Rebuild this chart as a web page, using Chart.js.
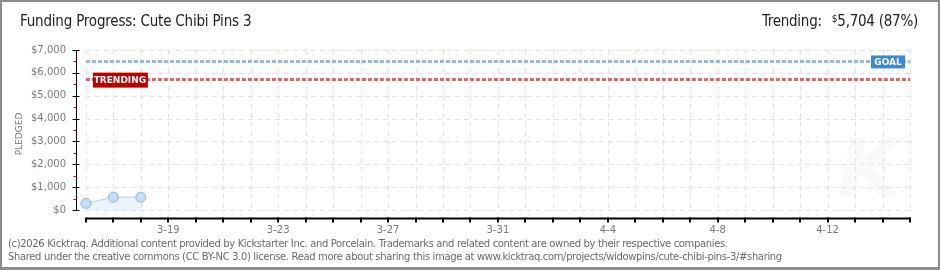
<!DOCTYPE html>
<html>
<head>
<meta charset="utf-8">
<script src="https://cdn.jsdelivr.net/npm/chart.js@4"></script>
<style>
    body { margin: 0; background: #fff; }
    #wrap { position: relative; width: 940px; height: 270px; overflow: hidden; }
    #frame { position: absolute; left: 0; top: 0; width: 940px; height: 270px; box-sizing: border-box;
             border: 2px solid #8c8c8c; border-bottom-width: 3px; }
    #chart { position: absolute; left: 0; top: 0; }
    .title { position: absolute; left: 20px; top: 12px; font: 15px "Liberation Sans Narrow", "DejaVu Sans Condensed", sans-serif;
             color: #222; white-space: nowrap; letter-spacing: -0.2px; }
    .trend { position: absolute; right: 22px; top: 12px; font: 15px "Liberation Sans Narrow", "DejaVu Sans Condensed", sans-serif;
             color: #222; white-space: nowrap; letter-spacing: -0.25px; }
    .trend sup { font-size: 10px; vertical-align: 4px; margin-left: 6px; }
    .foot { position: absolute; left: 8px; top: 237px; font: 10px "DejaVu Sans", sans-serif; line-height: 13px;
            color: #6a6a6a; white-space: nowrap; letter-spacing: -0.35px; }
</style>
</head>
<body>
<div id="wrap">
    <canvas id="chart" width="940" height="270"></canvas>
    <div class="title">Funding Progress: Cute Chibi Pins 3</div>
    <div class="trend">Trending: <sup>$</sup>5,704 (87%)</div>
    <div class="foot">(c)2026 Kicktraq. Additional content provided by Kickstarter Inc. and Porcelain. Trademarks and related content are owned by their respective companies.<br>Shared under the creative commons (CC BY-NC 3.0) license. Read more about sharing this image at www.kicktraq.com/projects/widowpins/cute-chibi-pins-3/#sharing</div>
    <div id="frame"></div>
</div>
<script>
(function() {
    'use strict';

    // Data
    var dayLabels = ['3-16', '3-17', '3-18', '3-19', '3-20', '3-21', '3-22', '3-23', '3-24', '3-25', '3-26',
                     '3-27', '3-28', '3-29', '3-30', '3-31', '4-1', '4-2', '4-3', '4-4', '4-5', '4-6',
                     '4-7', '4-8', '4-9', '4-10', '4-11', '4-12', '4-13', '4-14', '4-15'];
    var pledged = [290, 560, 560];
    var goalValue = 6500;
    var trendValue = 5704;
    var yTicks = [0, 1000, 2000, 3000, 4000, 5000, 6000, 7000];

    var lastDay = dayLabels.length - 1;

    function flatLine(v) {
        return [{ x: 0, y: v }, { x: lastDay, y: v }];
    }

    // Grid, axes and the goal / trending tags
    var decor = {
        id: 'decor',
        beforeDatasetsDraw: function(chart) {
            var c = chart.ctx, xs = chart.scales.x, ys = chart.scales.y;
            var x0 = xs.getPixelForValue(0), x1 = xs.getPixelForValue(lastDay);
            var yTop = ys.getPixelForValue(yTicks[yTicks.length - 1]), yBot = ys.getPixelForValue(0);
            c.save();
            // faint watermark
            c.fillStyle = '#f9f9f9';
            c.font = 'italic bold 80px "DejaVu Sans", sans-serif';
            c.textAlign = 'center';
            c.textBaseline = 'middle';
            c.fillText('K', xs.getPixelForValue(28.5), ys.getPixelForValue(1500));
            c.strokeStyle = '#e2e2e2';
            c.lineWidth = 1;
            c.setLineDash([5, 4]);
            yTicks.forEach(function(v) {
                var y = Math.round(ys.getPixelForValue(v)) + 0.5;
                c.beginPath(); c.moveTo(x0, y); c.lineTo(x1, y); c.stroke();
            });
            dayLabels.forEach(function(l, i) {
                var x = Math.round(xs.getPixelForValue(i)) + 0.5;
                c.beginPath(); c.moveTo(x, yTop); c.lineTo(x, yBot); c.stroke();
            });
            c.restore();
        },
        afterDatasetsDraw: function(chart) {
            var c = chart.ctx, xs = chart.scales.x, ys = chart.scales.y, area = chart.chartArea;
            var x0 = xs.getPixelForValue(0), x1 = xs.getPixelForValue(lastDay);
            var yTop = ys.getPixelForValue(yTicks[yTicks.length - 1]), yBot = ys.getPixelForValue(0);
            var ax = Math.round(area.left) + 0.5, ay = Math.round(area.bottom) + 0.5;
            c.save();
            c.lineWidth = 1;
            // y axis
            c.strokeStyle = '#000';
            c.beginPath(); c.moveTo(ax, yTop); c.lineTo(ax, yBot + 1); c.stroke();
            yTicks.forEach(function(v, i) {
                var y = Math.round(ys.getPixelForValue(v)) + 0.5;
                c.strokeStyle = '#000';
                c.beginPath(); c.moveTo(ax - 4, y); c.lineTo(ax + 3, y); c.stroke();
                if (i > 0) {
                    var ym = Math.round(ys.getPixelForValue(v - 500)) + 0.5;
                    c.strokeStyle = '#e00000';
                    c.beginPath(); c.moveTo(ax - 3, ym); c.lineTo(ax, ym); c.stroke();
                }
            });
            // x axis
            c.strokeStyle = '#000';
            c.lineWidth = 2;
            c.beginPath(); c.moveTo(x0, ay); c.lineTo(x1 + 1, ay); c.stroke();
            dayLabels.forEach(function(l, i) {
                var x = Math.round(xs.getPixelForValue(i));
                c.beginPath(); c.moveTo(x, ay - 1); c.lineTo(x, ay + 4); c.stroke();
            });
            // tags
            c.font = 'bold 9px "DejaVu Sans", sans-serif';
            c.textBaseline = 'middle';
            var gy = ys.getPixelForValue(goalValue);
            c.fillStyle = '#3a88da';
            c.fillRect(x1 - 39, gy - 6, 34, 13);
            c.fillStyle = '#fff';
            c.textAlign = 'center';
            c.fillText('GOAL', x1 - 22, gy + 1);
            var ty = ys.getPixelForValue(trendValue);
            c.fillStyle = '#bb0000';
            c.fillRect(x0 + 7, ty - 7, 55, 15);
            c.fillStyle = '#fff';
            c.fillText('TRENDING', x0 + 34, ty + 1);
            c.restore();
        }
    };

    var ctx = document.getElementById('chart').getContext('2d');
    new Chart(ctx, {
        type: 'line',
        data: {
            datasets: [{
                label: 'Goal',
                data: flatLine(goalValue),
                borderColor: '#94b9e6',
                borderWidth: 3,
                borderDash: [4, 2],
                pointRadius: 0,
                fill: false,
                order: 2
            }, {
                label: 'Trending',
                data: flatLine(trendValue),
                borderColor: '#e06464',
                borderWidth: 3,
                borderDash: [4, 2],
                pointRadius: 0,
                fill: false,
                order: 2
            }, {
                label: 'Pledged',
                data: pledged.map(function(v, i) { return { x: i, y: v }; }),
                borderColor: '#b4d1f2',
                borderWidth: 1,
                backgroundColor: '#ebf3fd',
                fill: 'origin',
                tension: 0,
                pointRadius: 5,
                pointBackgroundColor: '#c5ddf7',
                pointBorderColor: '#8fb4df',
                pointBorderWidth: 1,
                order: 1
            }]
        },
        options: {
            responsive: false,
            animation: false,
            layout: {
                padding: { top: 50, right: 30, bottom: 0, left: 0 }
            },
            plugins: {
                legend: { display: false },
                tooltip: { enabled: false }
            },
            scales: {
                x: {
                    type: 'linear',
                    min: -0.36,
                    max: lastDay,
                    afterBuildTicks: function(scale) {
                        scale.ticks = dayLabels.map(function(l, i) { return { value: i }; });
                    },
                    afterFit: function(scale) { scale.height = 52; },
                    grid: { display: false, drawTicks: false },
                    border: { display: false },
                    ticks: {
                        autoSkip: false,
                        maxRotation: 0,
                        padding: 6,
                        color: '#7a7a7a',
                        font: { family: 'DejaVu Sans', size: 10 },
                        callback: function(v) { return v % 4 === 3 ? dayLabels[v] : ''; }
                    }
                },
                y: {
                    min: -350,
                    max: 7000,
                    afterBuildTicks: function(scale) {
                        scale.ticks = yTicks.map(function(v) { return { value: v }; });
                    },
                    afterFit: function(scale) { scale.width = 76; },
                    grid: { display: false, drawTicks: false },
                    border: { display: false },
                    title: {
                        display: true,
                        text: 'PLEDGED',
                        color: '#777',
                        font: { family: 'DejaVu Sans', size: 9 },
                        padding: { top: 14, bottom: 0 }
                    },
                    ticks: {
                        padding: 10,
                        color: '#7a7a7a',
                        font: { family: 'DejaVu Sans', size: 10 },
                        callback: function(v) { return '$' + v.toLocaleString('en-US'); }
                    }
                }
            }
        },
        plugins: [decor]
    });
})();
</script>
</body>
</html>
